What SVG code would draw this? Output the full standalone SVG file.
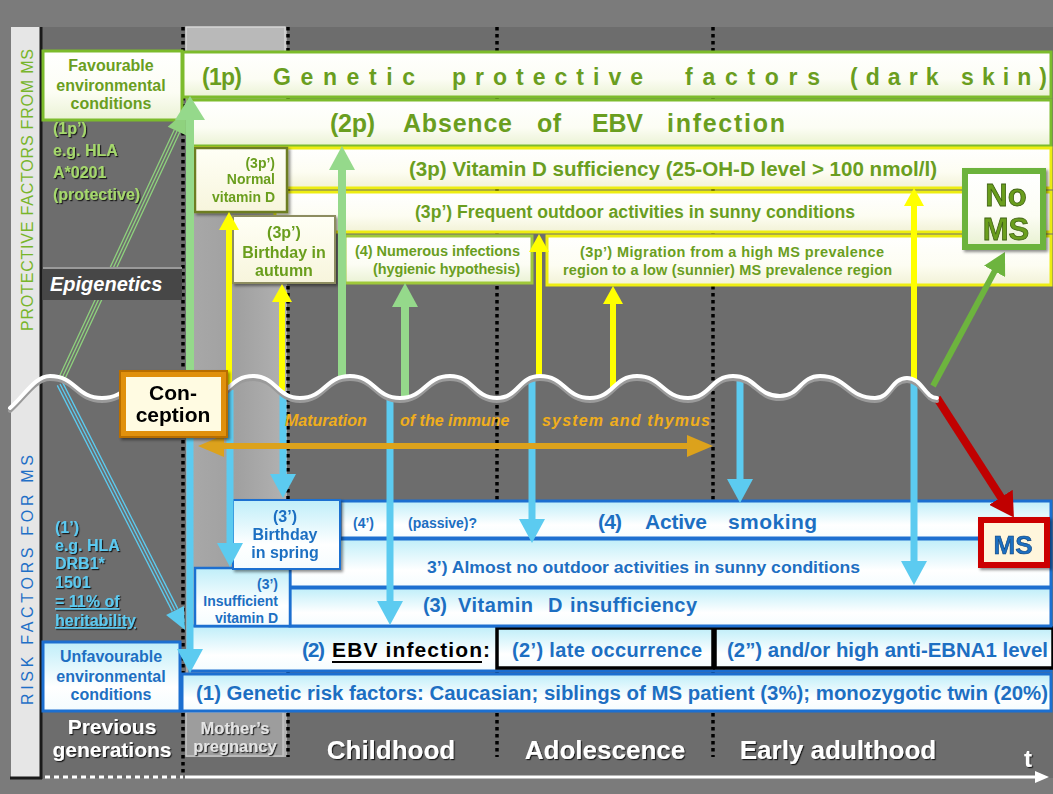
<svg xmlns="http://www.w3.org/2000/svg" width="1053" height="794" viewBox="0 0 1053 794">
<defs>
<style>
.t{font-family:"Liberation Sans",Arial,sans-serif;font-weight:bold}
.n{font-weight:normal}
.i{font-style:italic}
.g{fill:#6a9e1f}
.lg{fill:#a5d86c}
.b{fill:#1d6fc2}
.lb{fill:#5cc9f0}
.k{fill:#000}
.w{fill:#fff}
.m{text-anchor:middle}
.e{text-anchor:end}
.pbar{fill:url(#gG);stroke:#7cbb2c;stroke-width:3}
.ybar{fill:url(#gY);stroke:#eded12;stroke-width:3}
.rbar{fill:url(#gB);stroke:#1c6fd0;stroke-width:3}
.kbox{fill:url(#gB);stroke:#000;stroke-width:3.5}
.dot{stroke:#000;stroke-width:3.5;stroke-dasharray:3.5 3.5}
.ag{stroke:#95d98b;stroke-width:8;marker-end:url(#mG)}
.ac{stroke:#5ccbf0;stroke-width:7;marker-end:url(#mC)}
.ay{stroke:#ffff00;stroke-width:6;marker-end:url(#mY)}
.dg{stroke:#8fd27e;stroke-width:1.3}
.dc{stroke:#5ccbf0;stroke-width:1.3}
</style>
<linearGradient id="gG" x1="0" y1="0" x2="0" y2="1"><stop offset="0" stop-color="#ffffff"/><stop offset="0.6" stop-color="#fcfdf4"/><stop offset="1" stop-color="#eaf2d4"/></linearGradient>
<linearGradient id="gY" x1="0" y1="0" x2="0" y2="1"><stop offset="0" stop-color="#ffffff"/><stop offset="0.6" stop-color="#fdfdf2"/><stop offset="1" stop-color="#f2f2d6"/></linearGradient>
<linearGradient id="gC" x1="0" y1="0" x2="0" y2="1"><stop offset="0" stop-color="#fffff6"/><stop offset="1" stop-color="#f7f5dc"/></linearGradient>
<linearGradient id="gB" x1="0" y1="0" x2="0" y2="1"><stop offset="0" stop-color="#bfeef9"/><stop offset="0.65" stop-color="#ffffff"/><stop offset="1" stop-color="#f4fcfe"/></linearGradient>
<linearGradient id="gCol" x1="0" y1="0" x2="1" y2="0"><stop offset="0" stop-color="#a9a9a9"/><stop offset="0.5" stop-color="#a0a0a0"/><stop offset="1" stop-color="#b2b2b2"/></linearGradient>
<filter id="sh" x="-10%" y="-10%" width="130%" height="130%"><feDropShadow dx="2" dy="2" stdDeviation="1.5" flood-color="#000" flood-opacity="0.45"/></filter>
<filter id="ts" x="-5%" y="-20%" width="115%" height="150%"><feDropShadow dx="1.2" dy="1.2" stdDeviation="0.6" flood-color="#000" flood-opacity="0.75"/></filter>
<marker id="mG" markerUnits="userSpaceOnUse" viewBox="0 0 24 26" markerWidth="24" markerHeight="26" refX="2" refY="13" orient="auto"><path d="M0,0 L24,13 L0,26 z" fill="#95d98b"/></marker>
<marker id="mGL" markerUnits="userSpaceOnUse" viewBox="0 0 24 30" markerWidth="24" markerHeight="30" refX="2" refY="15" orient="auto"><path d="M0,0 L24,15 L0,30 z" fill="#95d98b"/></marker>
<marker id="mC" markerUnits="userSpaceOnUse" viewBox="0 0 24 26" markerWidth="24" markerHeight="26" refX="2" refY="13" orient="auto"><path d="M0,0 L24,13 L0,26 z" fill="#5ccbf0"/></marker>
<marker id="mY" markerUnits="userSpaceOnUse" viewBox="0 0 18 20" markerWidth="18" markerHeight="20" refX="1" refY="10" orient="auto"><path d="M0,0 L18,10 L0,20 z" fill="#ffff00"/></marker>
<marker id="mO" markerUnits="userSpaceOnUse" viewBox="0 0 26 22" markerWidth="26" markerHeight="22" refX="2" refY="11" orient="auto-start-reverse"><path d="M0,0 L26,11 L0,22 z" fill="#dca21c"/></marker>
<marker id="mR" markerUnits="userSpaceOnUse" viewBox="0 0 24 28" markerWidth="24" markerHeight="28" refX="2" refY="14" orient="auto"><path d="M0,0 L24,14 L0,28 z" fill="#c00000"/></marker>
<marker id="mD" markerUnits="userSpaceOnUse" viewBox="0 0 22 24" markerWidth="22" markerHeight="24" refX="2" refY="12" orient="auto"><path d="M0,0 L22,12 L0,24 z" fill="#6db43e"/></marker>
<marker id="mW" markerUnits="userSpaceOnUse" viewBox="0 0 14 12" markerWidth="14" markerHeight="12" refX="1" refY="6" orient="auto"><path d="M0,0 L14,6 L0,12 z" fill="#fff"/></marker>
</defs>

<rect x="0" y="0" width="1053" height="794" fill="#7b7b7b"/>

<g id="background">
<rect x="42" y="27" width="1011" height="751" fill="#6d6d6d"/>
<rect x="11" y="27" width="30" height="751" fill="#e6e6e6"/>
<line x1="41" y1="27" x2="41" y2="779" stroke="#1a1a1a" stroke-width="3"/>
<line x1="10" y1="778" x2="42" y2="778" stroke="#1a1a1a" stroke-width="3"/>
<rect x="186" y="27" width="101" height="730" fill="url(#gCol)"/>
<rect x="186" y="27" width="99" height="25" fill="#b9b9b9" stroke="#d6d6d6" stroke-width="1.5"/>
<line class="dot" x1="183" y1="27" x2="183" y2="776"/>
<line class="dot" x1="288" y1="27" x2="288" y2="757"/>
<line class="dot" x1="497" y1="27" x2="497" y2="757"/>
<line class="dot" x1="713" y1="27" x2="713" y2="757"/>
</g>

<g id="axis-labels">
<text class="t n" transform="translate(33,190) rotate(-90)" text-anchor="middle" font-size="16" fill="#78b52b" textLength="282" lengthAdjust="spacing">PROTECTIVE FACTORS FROM MS</text>
<text class="t n" transform="translate(33,580) rotate(-90)" text-anchor="middle" font-size="16" fill="#1f6fc6" textLength="250" lengthAdjust="spacing">RISK FACTORS FOR MS</text>
</g>

<g id="time-axis">
<line x1="45" y1="777" x2="183" y2="777" stroke="#fff" stroke-width="3" stroke-dasharray="5 4"/>
<line x1="185" y1="777" x2="1036" y2="777" stroke="#fff" stroke-width="3" marker-end="url(#mW)"/>
<g filter="url(#ts)">
<text class="t w m" x="112" y="734" font-size="21">Previous</text>
<text class="t w m" x="112" y="757" font-size="21">generations</text>
<text class="t w m" x="391" y="759" font-size="26">Childhood</text>
<text class="t w m" x="605" y="759" font-size="26">Adolescence</text>
<text class="t w m" x="838" y="759" font-size="26">Early adulthood</text>
<text class="t w m" x="1028" y="767" font-size="24">t</text>
</g>
</g>
<g id="node-pregnancy">
<rect x="186" y="712" width="97" height="44" fill="#9d9d9d" stroke="#c4c4c4" stroke-width="1.5"/>
<g filter="url(#ts)">
<text class="t m" x="235" y="734" font-size="16.5" fill="#e4e4e4">Mother’s</text>
<text class="t m" x="235" y="752" font-size="16.5" fill="#e4e4e4">pregnancy</text>
</g>
</g>

<g id="node-1p">
<rect class="pbar" x="183" y="52" width="868" height="45"/>
<text class="t g" x="202" y="85" font-size="23" textLength="40">(1p)</text>
<text class="t g" x="273" y="85" font-size="23" textLength="142">Genetic</text>
<text class="t g" x="452" y="85" font-size="23" textLength="191">protective</text>
<text class="t g" x="685" y="85" font-size="23" textLength="135">factors</text>
<text class="t g" x="850" y="85" font-size="23" textLength="197">(dark skin)</text>
</g>
<g id="node-favourable">
<rect class="pbar" x="43" y="51" width="139" height="69"/>
<text class="t g m" x="111" y="71" font-size="16">Favourable</text>
<text class="t g m" x="111" y="91" font-size="16">environmental</text>
<text class="t g m" x="111" y="109" font-size="16">conditions</text>
</g>
<g id="node-2p">
<rect class="pbar" x="188" y="100" width="863" height="46"/>
<text class="t g" x="330" y="132" font-size="25" textLength="45">(2p)</text>
<text class="t g" x="403" y="132" font-size="25" textLength="109">Absence</text>
<text class="t g" x="537" y="132" font-size="25" textLength="24">of</text>
<text class="t g" x="592" y="132" font-size="25" textLength="51">EBV</text>
<text class="t g" x="667" y="132" font-size="25" textLength="118">infection</text>
</g>
<g id="node-3p">
<rect class="ybar" x="195" y="148" width="856" height="40"/>
<text class="t g" x="409" y="176" font-size="20" textLength="528" lengthAdjust="spacingAndGlyphs">(3p) Vitamin D sufficiency (25-OH-D level &gt; 100 nmol/l)</text>
</g>
<g id="node-3p-outdoor">
<rect class="ybar" x="275" y="192" width="776" height="40"/>
<text class="t g" x="415" y="218" font-size="17.5" textLength="440" lengthAdjust="spacingAndGlyphs">(3p’) Frequent outdoor activities in sunny conditions</text>
</g>
<g id="node-normal-vitd" filter="url(#sh)">
<rect x="195" y="148" width="92" height="64" fill="url(#gC)" stroke="#6d7d22" stroke-width="2.5"/>
<text class="t g e" x="275" y="168" font-size="14">(3p’)</text>
<text class="t g e" x="275" y="184" font-size="14">Normal</text>
<text class="t g e" x="275" y="202" font-size="14">vitamin D</text>
</g>
<g id="node-birthday-autumn" filter="url(#sh)">
<rect x="233" y="216" width="102" height="67" fill="url(#gC)" stroke="#8d8d60" stroke-width="2"/>
<text class="t g m" x="284" y="238" font-size="16">(3p’)</text>
<text class="t g m" x="284" y="258" font-size="16">Birthday in</text>
<text class="t g m" x="284" y="276" font-size="16">autumn</text>
</g>
<g id="node-infections">
<rect x="345" y="236" width="187" height="47" fill="url(#gG)" stroke="#9fc83a" stroke-width="3"/>
<text class="t g" x="355" y="256" font-size="14.5" textLength="165">(4) Numerous infections</text>
<text class="t g" x="373" y="274" font-size="14.5" textLength="147">(hygienic hypothesis)</text>
</g>
<g id="node-migration">
<rect class="ybar" x="547" y="236" width="504" height="49"/>
<text class="t g" x="580" y="257" font-size="14.5" textLength="304">(3p’) Migration from a high MS prevalence</text>
<text class="t g" x="563" y="275" font-size="14.5" textLength="329">region to a low (sunnier) MS prevalence region</text>
</g>
<g id="node-1p-prime" filter="url(#ts)">
<text class="t lg" x="53" y="134" font-size="16">(1p’)</text>
<text class="t lg" x="53" y="156" font-size="16">e.g. HLA</text>
<text class="t lg" x="53" y="178" font-size="16">A*0201</text>
<text class="t lg" x="53" y="200" font-size="16">(protective)</text>
</g>

<g id="node-1">
<rect class="rbar" x="182" y="674" width="869" height="37"/>
<text class="t b" x="196" y="700" font-size="19.5" textLength="852" lengthAdjust="spacingAndGlyphs">(1) Genetic risk factors: Caucasian; siblings of MS patient (3%); monozygotic twin (20%)</text>
</g>
<g id="node-unfavourable">
<rect x="43" y="642" width="137" height="69" fill="url(#gB)" stroke="#1c6fd0" stroke-width="3"/>
<text class="t b m" x="111" y="662" font-size="16">Unfavourable</text>
<text class="t b m" x="111" y="682" font-size="16">environmental</text>
<text class="t b m" x="111" y="700" font-size="16">conditions</text>
</g>
<g id="node-2">
<rect class="rbar" x="190" y="626" width="861" height="45"/>
<text class="t b" x="302" y="657" font-size="21" textLength="23">(2)</text>
<text class="t k" x="332" y="657" font-size="21" textLength="150">EBV infection</text>
<line x1="332" y1="662" x2="482" y2="662" stroke="#000" stroke-width="1.8"/>
<text class="t k" x="483" y="657" font-size="21">:</text>
</g>
<g id="node-2-late">
<rect class="kbox" x="497" y="628" width="216" height="40"/>
<text class="t b" x="512" y="657" font-size="20" textLength="190">(2’) late occurrence</text>
</g>
<g id="node-2-ebna">
<rect class="kbox" x="715" y="628" width="338" height="40"/>
<text class="t b" x="727" y="657" font-size="20" textLength="321" lengthAdjust="spacingAndGlyphs">(2”) and/or high anti-EBNA1 level</text>
</g>
<g id="node-3">
<rect class="rbar" x="290" y="588" width="761" height="38"/>
<text class="t b" x="423" y="612" font-size="20" textLength="24">(3)</text>
<text class="t b" x="458" y="612" font-size="20" textLength="75">Vitamin</text>
<text class="t b" x="548" y="612" font-size="20" textLength="13">D</text>
<text class="t b" x="570" y="612" font-size="20" textLength="127">insufficiency</text>
</g>
<g id="node-3-outdoor">
<rect class="rbar" x="290" y="539" width="761" height="48"/>
<text class="t b" x="427" y="573" font-size="17" textLength="433" lengthAdjust="spacingAndGlyphs">3’) Almost no outdoor activities in sunny conditions</text>
</g>
<g id="node-4">
<rect class="rbar" x="340" y="501" width="711" height="37"/>
<text class="t b" x="353" y="528" font-size="14">(4’)</text>
<text class="t b" x="408" y="528" font-size="14" textLength="69">(passive)?</text>
<text class="t b" x="598" y="529" font-size="21" textLength="24">(4)</text>
<text class="t b" x="645" y="529" font-size="21" textLength="62">Active</text>
<text class="t b" x="728" y="529" font-size="21" textLength="89">smoking</text>
</g>
<g id="node-insufficient-vitd">
<rect x="195" y="568" width="95" height="58" fill="url(#gB)" stroke="#1c6fd0" stroke-width="2.5"/>
<text class="t b e" x="278" y="589" font-size="14">(3’)</text>
<text class="t b e" x="278" y="606" font-size="14">Insufficient</text>
<text class="t b e" x="278" y="623" font-size="14">vitamin D</text>
</g>
<g id="node-birthday-spring" filter="url(#sh)">
<rect x="233" y="500" width="107" height="69" fill="url(#gB)" stroke="#1c6fd0" stroke-width="2"/>
<text class="t b m" x="285" y="522" font-size="16">(3’)</text>
<text class="t b m" x="285" y="540" font-size="16">Birthday</text>
<text class="t b m" x="285" y="558" font-size="16">in spring</text>
</g>
<g id="node-1-prime" filter="url(#ts)">
<text class="t lb" x="55" y="533" font-size="16">(1’)</text>
<text class="t lb" x="55" y="551" font-size="16">e.g. HLA</text>
<text class="t lb" x="55" y="569" font-size="16">DRB1*</text>
<text class="t lb" x="55" y="588" font-size="16">1501</text>
<text class="t lb" x="55" y="607" font-size="16" text-decoration="underline">= 11% of</text>
<text class="t lb" x="55" y="626" font-size="16" text-decoration="underline">heritability</text>
</g>

<g id="connectors">
<g class="dg">
<line x1="64.7" y1="379.3" x2="179.7" y2="132.3"/>
<line x1="62" y1="378" x2="177" y2="131"/>
<line x1="59.3" y1="376.7" x2="174.3" y2="129.7"/>
</g>
<polygon points="186,111 185.9,135.2 167.7,126.8" fill="#8fd27e"/>
<g class="dc">
<line x1="62.7" y1="382.6" x2="177.7" y2="608.6"/>
<line x1="60" y1="384" x2="175" y2="610"/>
<line x1="57.3" y1="385.4" x2="172.3" y2="611.4"/>
</g>
<polygon points="185,630 183.9,605.9 166.1,614.9" fill="#5ccbf0"/>

<line x1="190" y1="380" x2="190" y2="118" stroke="#95d98b" stroke-width="8" marker-end="url(#mGL)"/>
<line class="ag" x1="342" y1="378" x2="342" y2="168"/>
<line class="ag" x1="405" y1="397" x2="405" y2="305"/>

<line class="ay" x1="229" y1="388" x2="229" y2="229"/>
<line class="ay" x1="282" y1="391" x2="282" y2="301"/>
<line class="ay" x1="539" y1="377" x2="539" y2="251"/>
<line class="ay" x1="613" y1="389" x2="613" y2="303"/>
<line class="ay" x1="914" y1="380" x2="914" y2="205"/>

<line class="ac" x1="190" y1="392" x2="190" y2="651"/>
<line class="ac" x1="230" y1="390" x2="230" y2="545"/>
<line class="ac" x1="283" y1="392" x2="283" y2="476"/>
<line class="ac" x1="390" y1="398" x2="390" y2="603"/>
<line class="ac" x1="532" y1="378" x2="532" y2="521"/>
<line class="ac" x1="740" y1="378" x2="740" y2="481"/>
<line class="ac" x1="914" y1="381" x2="914" y2="563"/>

<path d="M222,446 L689,446" stroke="#dca21c" stroke-width="6" fill="none" marker-start="url(#mO)" marker-end="url(#mO)"/>
<line x1="933" y1="386" x2="995.5" y2="269.6" stroke="#6db43e" stroke-width="6" marker-end="url(#mD)"/>
<line x1="937" y1="398" x2="1002" y2="499" stroke="#c00000" stroke-width="8" marker-end="url(#mR)"/>
</g>

<g id="wave" fill="none" stroke-linecap="round">
<path d="M10,408 C25,395 35,376 50,376 C76,376 76,398 102,398 C128.5,398 128.5,376 155,376 C180,376 180,398 205,398 C229,398 229,376 253,376 C276.5,376 276.5,398 300,398 C325,398 325,376 350,376 C375,376 375,398 400,398 C425,398 425,376 450,376 C473.5,376 473.5,398 497,398 C518.5,398 518.5,376 540,376 C565,376 565,398 590,398 C613.5,398 613.5,376 637,376 C662.5,376 662.5,398 688,398 C710.5,398 710.5,376 733,376 C756.5,376 756.5,396 780,396 C800,396 800,376 820,376 C847.5,376 847.5,398 875,398 C891,398 891,378 907,378 C922,378 925,398 937,398" stroke="#9a9a9a" stroke-width="4" transform="translate(0,3)"/>
<path d="M10,408 C25,395 35,376 50,376 C76,376 76,398 102,398 C128.5,398 128.5,376 155,376 C180,376 180,398 205,398 C229,398 229,376 253,376 C276.5,376 276.5,398 300,398 C325,398 325,376 350,376 C375,376 375,398 400,398 C425,398 425,376 450,376 C473.5,376 473.5,398 497,398 C518.5,398 518.5,376 540,376 C565,376 565,398 590,398 C613.5,398 613.5,376 637,376 C662.5,376 662.5,398 688,398 C710.5,398 710.5,376 733,376 C756.5,376 756.5,396 780,396 C800,396 800,376 820,376 C847.5,376 847.5,398 875,398 C891,398 891,378 907,378 C922,378 925,398 937,398" stroke="#ffffff" stroke-width="4"/>
</g>

<g id="node-epigenetics">
<rect x="43" y="267" width="139" height="33" fill="#474747"/>
<line x1="43" y1="268" x2="182" y2="268" stroke="#9a9a9a" stroke-width="2"/>
<text class="t i w" x="50" y="291" font-size="20">Epigenetics</text>
</g>
<g id="node-maturation">
<text class="t i" x="285" y="426" font-size="16" fill="#f0ae1c">Maturation</text>
<text class="t i" x="400" y="426" font-size="16" fill="#f0ae1c">of the immune</text>
<text class="t i" x="542" y="426" font-size="16" fill="#f0ae1c" textLength="168">system and thymus</text>
</g>
<g id="node-conception" filter="url(#sh)">
<rect x="120" y="371" width="107" height="66" fill="#e0900f"/>
<rect x="120" y="371" width="107" height="66" fill="none" stroke="#b86e00" stroke-width="2"/>
<rect x="126" y="377" width="95" height="54" fill="#fffbe2"/>
<text class="t k m" x="173" y="400" font-size="21">Con-</text>
<text class="t k m" x="173" y="422" font-size="21">ception</text>
</g>
<g id="node-no-ms" filter="url(#sh)">
<rect x="962" y="168" width="84" height="82" fill="#6cb33e"/>
<rect x="968" y="174" width="72" height="70" fill="url(#gG)"/>
<text class="t g m" x="1006" y="206" font-size="31" stroke="#3f6212" stroke-width="0.8">No</text>
<text class="t g m" x="1006" y="240" font-size="31" stroke="#3f6212" stroke-width="0.8">MS</text>
</g>
<g id="node-ms" filter="url(#sh)">
<rect x="978" y="517" width="72" height="51" fill="#cc0000"/>
<rect x="984" y="523" width="60" height="39" fill="#fff6dc"/>
<text class="t b m" x="1013" y="554" font-size="26" stroke="#0d3f75" stroke-width="0.6">MS</text>
</g>
</svg>
